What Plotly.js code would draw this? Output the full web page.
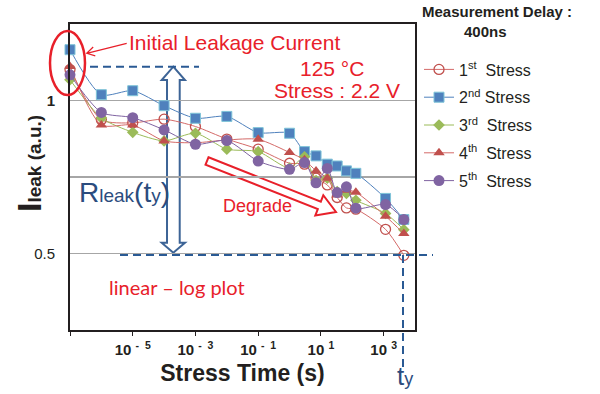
<!DOCTYPE html>
<html><head><meta charset="utf-8">
<script src="https://cdn.plot.ly/plotly-3.0.1.min.js"></script>
<style>html,body{margin:0;padding:0;background:#fff}</style>
</head><body>
<div id="chart" style="width:600px;height:394px"></div>
<script>
// ---- data ----
const stressTimes = [1e-7, 1e-6, 1e-5, 1e-4, 1e-3, 1e-2, 0.1, 1, 3, 7, 16, 33, 65, 130, 1150, 4400];
const stress1 = [1.101, 0.937, 0.927, 0.939, 0.915, 0.874, 0.841, 0.795, 0.792, 0.746, 0.724, 0.683, 0.649, 0.645, 0.579, 0.494];
const stress2 = [1.166, 1.019, 1.032, 0.983, 0.942, 0.948, 0.895, 0.893, 0.833, 0.819, 0.792, 0.786, 0.770, 0.762, 0.680, 0.611];
const stress3 = [1.068, 0.943, 0.896, 0.868, 0.893, 0.841, 0.833, 0.779, 0.816, 0.738, 0.746, 0.702, 0.696, 0.674, 0.631, 0.578];
const stress4 = [1.111, 0.920, 0.920, 0.868, 0.862, 0.871, 0.873, 0.830, 0.806, 0.770, 0.746, 0.691, 0.707, 0.700, 0.622, 0.565];
const stress5 = [1.084, 0.961, 0.944, 0.904, 0.857, 0.869, 0.802, 0.775, 0.797, 0.731, 0.778, 0.699, 0.718, 0.648, 0.660, 0.611];
const seriesNames = ['1<sup>st</sup>  Stress', '2<sup>nd</sup> Stress', '3<sup>rd</sup>  Stress', '4<sup>th</sup>  Stress', '5<sup>th</sup>  Stress'];
const xTickVals = [1e-7, 1e-5, 1e-3, 1e-1, 1e1, 1e3];
const xTickText = ['', '10\u00A0<sup>-\u00A0\u00A05</sup>', '10\u00A0<sup>-\u00A0\u00A03</sup>', '10\u00A0<sup>-\u00A0\u00A01</sup>', '10\u00A0<sup>1</sup>', '10\u00A0<sup>3</sup>'];
const yTickVals = [0.25, 0.5, 0.75, 1, 1.25];
const yTickText = ['', '0.5', '', '<b>1</b>', ''];

// ---- styling ----
const FONT = 'Liberation Sans, Arial, sans-serif';
const RED = '#E8202A';
const NAVY = '#2B4C7E';
const DASHBLUE = '#2A5A94';
const L = 70, T = 24, W = 345, H = 306;
const px = x => (x - L) / W;
const py = y => (T + H - y) / H;

const styles = [
  {marker: {symbol: 'circle-open', size: 10, color: '#C0504D', line: {width: 1.3}}, line: {color: '#D46A68', width: 1}},
  {marker: {symbol: 'square', size: 10, color: '#4F81BD', line: {color: '#7FC4D8', width: 1}}, line: {color: '#4F81BD', width: 1}},
  {marker: {symbol: 'diamond', size: 9, color: '#9BBB59', line: {width: 0}}, line: {color: '#9BBB59', width: 1}},
  {marker: {symbol: 'triangle-up', size: 10, color: '#C0504D', line: {width: 0}}, line: {color: '#D46A68', width: 1}},
  {marker: {symbol: 'circle', size: 11, color: '#8064A2', line: {width: 0}}, line: {color: '#8064A2', width: 1}}
];
const series = [stress1, stress2, stress3, stress4, stress5];
const traces = series.map((ys, i) => ({
  type: 'scatter', mode: 'lines+markers', x: stressTimes, y: ys, name: seriesNames[i],
  legendgroup: 'g' + i, cliponaxis: false,
  marker: styles[i].marker,
  line: Object.assign({shape: 'spline', smoothing: 0.7}, styles[i].line)
}));

function path(pts) { return 'M' + pts.map(p => px(p[0]).toFixed(4) + ',' + py(p[1]).toFixed(4)).join(' L') + ' Z'; }

// hollow double arrow
const dbl = [[173.3,66.7],[185,80],[179.7,80],[179.7,242.7],[185,242.7],[173.3,252.7],[161.7,242.7],[167,242.7],[167,80],[161.7,80]];
// degrade arrow
const deg = [[208.5,157.3],[320.8,201.7],[323.3,195.2],[336,212],[315.3,215.6],[317.8,209.1],[205.5,164.7]];

const shapes = [
  {type: 'circle', xref: 'paper', yref: 'paper', x0: px(50), x1: px(85), y0: py(95), y1: py(31), line: {color: RED, width: 2.5}},
  {type: 'path', xref: 'paper', yref: 'paper', path: 'M' + px(126.7) + ',' + py(43.3) + ' L' + px(86.7) + ',' + py(53.3) + ' M' + px(93.2) + ',' + py(47) + ' L' + px(86.7) + ',' + py(53.3) + ' L' + px(95.3) + ',' + py(55.8), line: {color: RED, width: 1.2}},
  {type: 'line', xref: 'paper', yref: 'paper', x0: px(90), x1: px(199), y0: py(66.7), y1: py(66.7), line: {color: DASHBLUE, width: 2, dash: '8px,5px'}},
  {type: 'line', xref: 'paper', yref: 'paper', x0: px(120), x1: px(433), y0: py(255), y1: py(255), line: {color: DASHBLUE, width: 2, dash: '8px,5px'}},
  {type: 'line', xref: 'paper', yref: 'paper', x0: px(403), x1: px(403), y0: py(255), y1: py(372), line: {color: DASHBLUE, width: 2, dash: '8px,5px'}},
  {type: 'path', xref: 'paper', yref: 'paper', path: path(dbl), fillcolor: '#ffffff', layer: 'between', line: {color: '#3D6496', width: 2}},
  {type: 'path', xref: 'paper', yref: 'paper', path: path(deg), fillcolor: '#ffffff', layer: 'between', line: {color: RED, width: 2}}
];

function ann(text, x, y, size, color, opts) {
  return Object.assign({xref: 'paper', yref: 'paper', x: px(x), y: py(y), text: text, showarrow: false,
    xanchor: 'left', yanchor: 'middle', font: {family: FONT, size: size, color: color}}, opts || {});
}
const annotations = [
  ann('Initial Leakage Current', 127, 42, 21, RED),
  ann('125 °C', 298, 68, 21, RED),
  ann('Stress : 2.2 V', 272, 90, 21, RED),
  ann('Degrade', 221, 206, 18, RED),
  ann('linear – log plot', 107, 287, 20, RED, {font: {family: 'Lato, sans-serif', size: 20, color: RED}}),
  ann('<span style="font-size:28px">R</span><span style="font-size:19px">leak</span><span style="font-size:28px">(t</span><span style="font-size:19px">y</span><span style="font-size:28px">)</span>', 77, 192, 28, NAVY),
  ann('<span style="font-size:26px">t</span><span style="font-size:18px">y</span>', 395, 376, 26, NAVY),
  ann('<b>Measurement Delay :</b>', 497, 12, 15, '#231F20', {xanchor: 'center'}),
  ann('<b>400ns</b>', 485, 31, 15, '#231F20', {xanchor: 'center'}),
  // y-axis title, placed like the reference (slightly above the plot's centre)
  ann('<b><span style="font-size:34px">I</span>leak (a.u.)</b>', 29, 164, 19, '#231F20', {xanchor: 'center', textangle: -90})
];

const layout = {
  width: 600, height: 394,
  margin: {l: L, r: 600 - L - W, t: T, b: 394 - T - H},
  paper_bgcolor: '#ffffff', plot_bgcolor: '#ffffff',
  font: {family: FONT, color: '#231F20'},
  showlegend: true,
  legend: {x: px(419), y: py(52.5), xanchor: 'left', yanchor: 'top', bgcolor: 'rgba(0,0,0,0)',
    font: {family: FONT, size: 16, color: '#231F20'}, tracegroupgap: 4},
  xaxis: {type: 'log', range: [-7, 4], tickvals: xTickVals, ticktext: xTickText,
    ticks: 'outside', ticklen: 4, tickcolor: '#231F20', tickwidth: 1, ticklabelstandoff: 1,
    tickfont: {family: FONT, size: 15, color: '#231F20', weight: 'bold'},
    showgrid: false, zeroline: false, showline: true, mirror: true, linecolor: '#231F20', linewidth: 2,
    title: {text: '<b>Stress Time (s)</b>', font: {family: FONT, size: 23, color: '#231F20'}, standoff: 8}},
  yaxis: {range: [0.25, 1.25], tickvals: yTickVals, ticktext: yTickText,
    ticks: '', ticklabelstandoff: 10,
    tickfont: {family: FONT, size: 15, color: '#231F20'},
    showgrid: true, gridcolor: '#A6A6A6', gridwidth: 1.5, zeroline: false,
    showline: true, mirror: true, linecolor: '#231F20', linewidth: 2},
  shapes: shapes,
  annotations: annotations
};

Plotly.newPlot('chart', traces, layout, {displayModeBar: false, staticPlot: true});
</script>
</body></html>
